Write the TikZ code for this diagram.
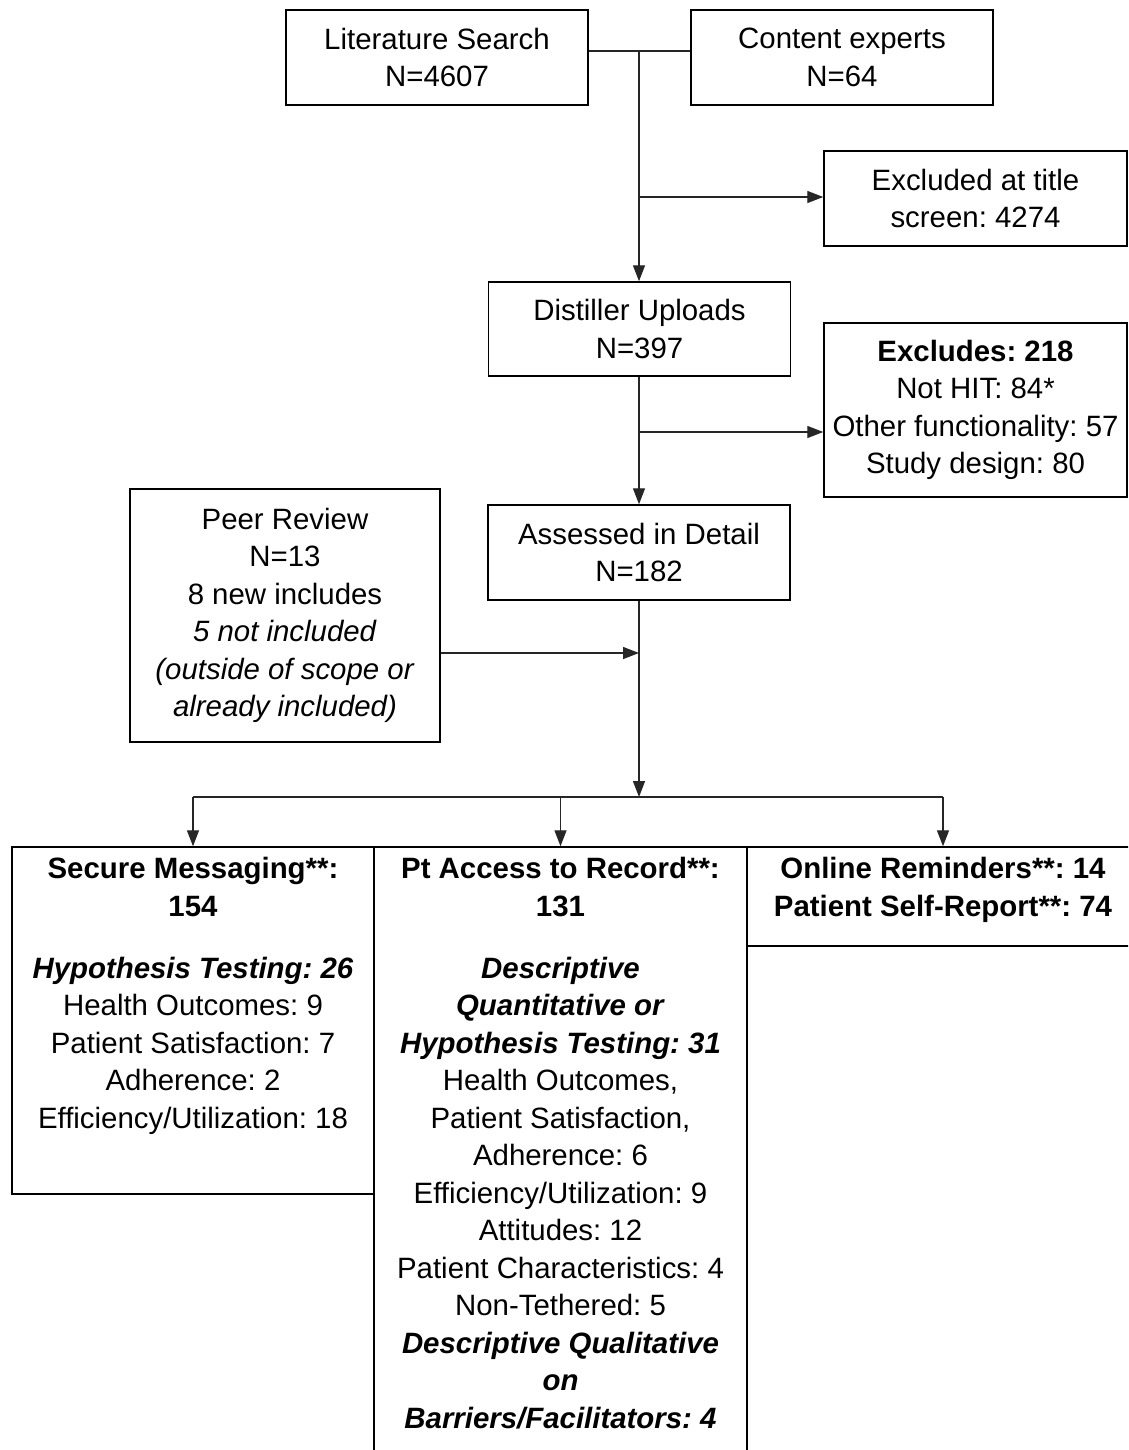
\documentclass[tikz,border=0pt]{standalone}
\usepackage{fontspec}
\setmainfont{Liberation Sans}
\usetikzlibrary{arrows.meta,calc}
\frenchspacing
\begin{document}
\frenchspacing
\begin{tikzpicture}[x=1pt,y=-1pt,
  tfont/.style={font=\fontsize{29.4}{37.5}\selectfont\frenchspacing},
  box/.style={draw=black, line width=1.5pt, inner sep=0pt, align=center, tfont},
  conn/.style={line width=1.4pt, draw=black!85},
  arr/.style={conn, -{Triangle[length=16pt,width=12pt]}},
  txt/.style={inner sep=0pt, align=center, anchor=north, tfont}
]
\path[use as bounding box, clip] (0,0) rectangle (1128,1450);
\fill[white] (0,0) rectangle (1128,1450);

% top row
\node[box, minimum width=302, minimum height=95] (lit) at (437,57.5) {Literature Search\\N=4607};
\node[box, minimum width=302, minimum height=95] (ce) at (842,57.5) {Content experts\\N=64};

% exclusions
\node[box, minimum width=303, minimum height=95] (ext) at (975.5,198.5) {Excluded at title\\screen: 4274};
\node[box, minimum width=302, minimum height=94] (du) at (639.5,329) {Distiller Uploads\\N=397};
\node[box, minimum width=303, minimum height=174] (exc) at (975.5,410) {\textbf{Excludes: 218}\\Not HIT: 84*\\Other functionality: 57\\Study design: 80};
\node[box, minimum width=302, minimum height=95] (ad) at (639,552.5) {Assessed in Detail\\N=182};
\node[box, minimum width=310, minimum height=253] (peer) at (285,615.5) {Peer Review\\N=13\\8 new includes\\\textit{5 not included}\\\textit{(outside of scope or}\\\textit{already included)}};

% bottom boxes
\node[box, minimum width=362, minimum height=347] (sm) at (193,1020.5) {};
\node[box, minimum width=373, minimum height=623] (pa) at (560.5,1158.5) {};
\node[box, minimum width=392, minimum height=99] (onr) at (943,896.5) {};

\node[txt] (smt) at ($(sm.north)+(0,11)$) {\textbf{Secure Messaging**:}\\\textbf{154}\\[24.5pt]\textbf{\textit{Hypothesis Testing: 26}}\\Health Outcomes: 9\\Patient Satisfaction: 7\\Adherence: 2\\Efficiency/Utilization: 18};
\node[txt] (pat) at ($(pa.north)+(0,11)$) {\textbf{Pt Access to Record**:}\\\textbf{131}\\[24.5pt]\textbf{\textit{Descriptive}}\\\textbf{\textit{Quantitative or}}\\\textbf{\textit{Hypothesis Testing: 31}}\\Health Outcomes,\\Patient Satisfaction,\\Adherence: 6\\Efficiency/Utilization: 9\\Attitudes: 12\\Patient Characteristics: 4\\Non-Tethered: 5\\\textbf{\textit{Descriptive Qualitative}}\\\textbf{\textit{on}}\\\textbf{\textit{Barriers/Facilitators: 4}}};
\node[txt] (onrt) at ($(onr.north)+(0,11)$) {\textbf{Online Reminders**: 14}\\\textbf{Patient Self-Report**: 74}};

% connectors
\coordinate (j0) at (639,51);
\coordinate (j1) at (639,197);
\coordinate (j2) at (639,432);
\coordinate (j3) at (639,653);
\coordinate (j4) at (639,797);

\draw[conn] (lit.east |- j0) -- (ce.west |- j0);
\draw[arr] (j0) -- (j0 |- du.north);
\draw[arr] (j1) -- (ext.west |- j1);
\draw[arr] (j2) -- (exc.west |- j2);
\draw[arr] (j0 |- du.south) -- (j0 |- ad.north);
\draw[arr] (peer.east |- j3) -- (j3);
\draw[arr] (ad.south) -- (j4);
\draw[conn] (sm.north |- j4) -- (onr.north |- j4);
\draw[arr] (sm.north |- j4) -- (sm.north);
\draw[arr] (pa.north |- j4) -- (pa.north);
\draw[arr] (onr.north |- j4) -- (onr.north);
\end{tikzpicture}
\end{document}
